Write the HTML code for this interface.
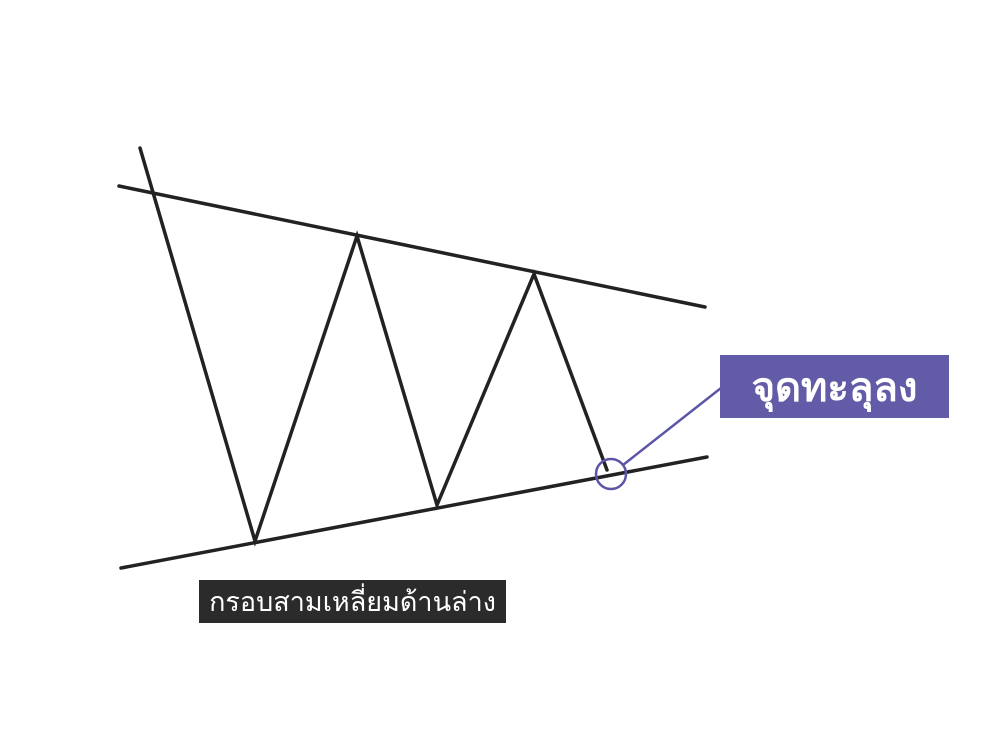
<!DOCTYPE html>
<html><head><meta charset="utf-8"><style>
body{margin:0;background:#fff;width:990px;height:740px;overflow:hidden;position:relative}
.t{position:absolute;display:flex;align-items:center;justify-content:center;font-family:"Liberation Sans","DejaVu Sans",sans-serif;color:#fff}
</style></head><body>
<svg width="990" height="740" style="position:absolute;left:0;top:0">
<g stroke="#222" stroke-width="3.5" fill="none" stroke-linecap="round" stroke-linejoin="miter">
<line x1="119" y1="186" x2="705" y2="307"/>
<line x1="121" y1="568" x2="707" y2="457"/>
<polyline points="140,148 255,541 357,236 437,505 534,274 607,470"/>
</g>
<circle cx="611" cy="474" r="15" fill="none" stroke="#5b55a8" stroke-width="2.5"/>
<line x1="623" y1="465" x2="721" y2="388" stroke="#5b55a8" stroke-width="2.5"/>
</svg>
<div class="t" style="left:720px;top:355px;width:229px;height:63px;background:#625ca8;font-size:40px;font-weight:bold">จุดทะลุลง</div>
<div class="t" style="left:199px;top:580px;width:307px;height:43px;background:#2b2b2b;font-size:27px">กรอบสามเหลี่ยมด้านล่าง</div>
</body></html>
